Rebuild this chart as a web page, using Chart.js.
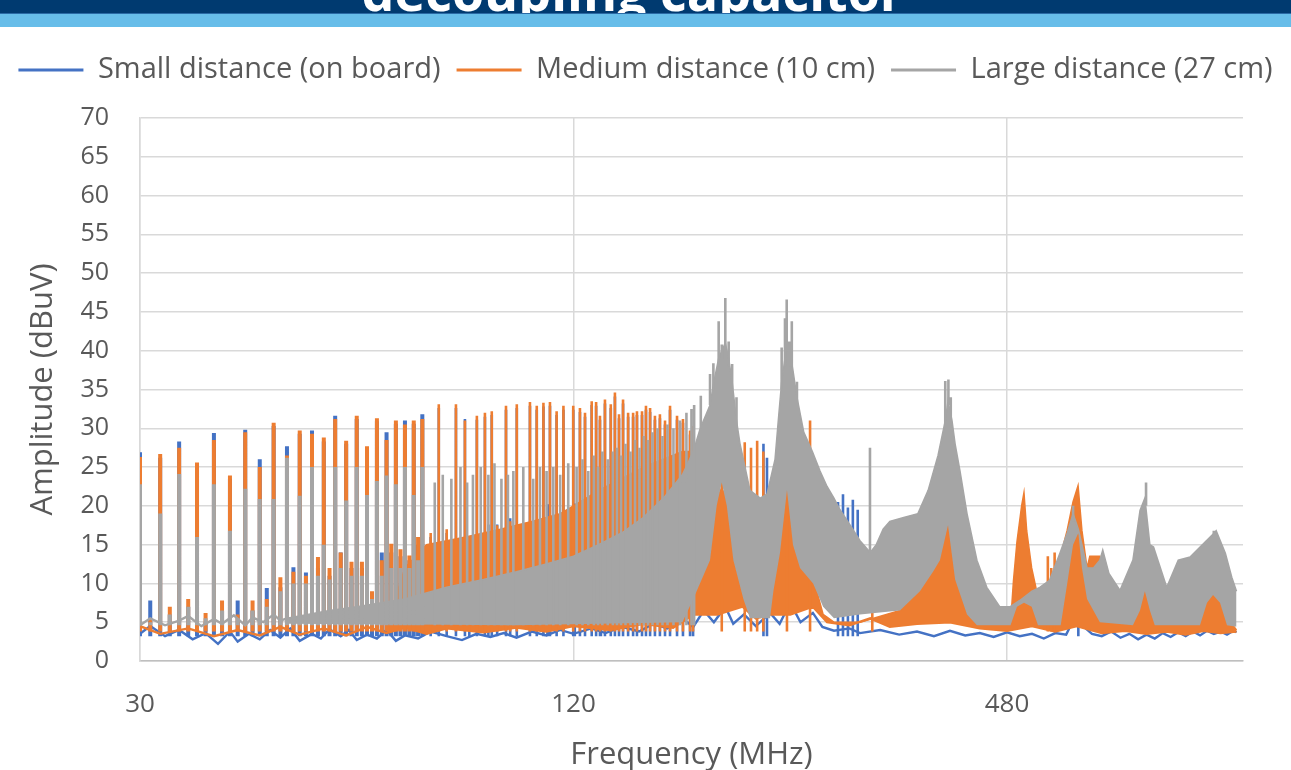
<!DOCTYPE html>
<html>
<head>
<meta charset="utf-8">
<script src="https://cdn.jsdelivr.net/npm/chart.js@4.4.1/dist/chart.umd.min.js"></script>
<style>
  html, body { margin: 0; padding: 0; background: #fff; }
  body { width: 1291px; height: 770px; position: relative; overflow: hidden; }
  #topbar { position: absolute; left: 0; top: 0; width: 1291px; height: 13px; background: #003a70; overflow: hidden; z-index: 2; }
  #topbar span { position: absolute; left: -13px; width: 1291px; top: -35px; text-align: center;
    font: bold 52px "Open Sans", sans-serif; line-height: 52px; color: #fff; white-space: nowrap; }
  #rule { position: absolute; left: 0; top: 13px; width: 1291px; height: 1px; background: #2a6aa5; z-index: 2; }
  #stripe { position: absolute; left: 0; top: 14px; width: 1291px; height: 13px; background: #67bde9; z-index: 2; }
  #chart { position: absolute; left: 0; top: 0; }
</style>
</head>
<body>
<div id="topbar"><span>decoupling capacitor</span></div>
<div id="rule"></div>
<div id="stripe"></div>
<canvas id="chart" width="1291" height="770"></canvas>
<script>
const seriesNames = ['Small distance (on board)', 'Medium distance (10 cm)', 'Large distance (27 cm)'];
const seriesColors = ['#4472c4', '#ed7d31', '#a5a5a5'];
const xTickMHz = [30, 120, 480];

// single spikes 30-74 MHz, one per MHz
const lowMHz = [30, 31, 32, 33, 34, 35, 36, 37, 38, 39, 40, 41, 42, 43, 44, 45, 46, 47, 48, 49, 50, 51, 52, 53, 54,
  55, 56, 57, 58, 59, 60, 61, 62, 63, 64, 65, 66, 67, 68, 69, 70, 71, 72, 73, 74];
const smallLowTop = [26.9, 7.8, 26.2, 6, 28.3, 7, 25.2, 5, 29.4, 6.5, 23.5, 7.8, 29.8, 6.5, 26, 9.4, 30.3, 9.5, 27.7, 12.1,
  29.3, 11.4, 29.7, 12, 28.3, 11, 31.6, 14, 28, 12, 31.2, 12, 27.3, 8, 30.9, 14, 29.5, 14, 30.6, 13.5, 31, 13, 30.6, 15, 31.8];
const mediumLowTop = [26.3, 5.5, 26.7, 7, 27.5, 8, 25.6, 6.2, 28.5, 7.8, 23.9, 6, 29.5, 7.8, 25, 8, 30.7, 10.8, 26.5, 11.5,
  29.7, 11, 29.3, 13.4, 28.8, 12, 31.2, 14, 28.4, 12.8, 31.6, 12.8, 27.7, 9, 31.3, 13, 28.5, 15.1, 31, 14.4, 30.5, 13.6, 31, 16, 31.2];
const largeLowTop = [22.8, 5, 19, 6, 24.1, 7, 16, 5.5, 22.8, 6.5, 16.8, 5.5, 22.2, 6.5, 20.9, 7, 20.9, 9, 26.2, 10,
  21.3, 10, 25, 11, 15, 10.5, 25, 12, 20.7, 11, 25, 11, 21.4, 8, 23.2, 11, 23.9, 12, 22.8, 12, 25, 12, 21.4, 13, 25];

// tall spikes 76-176 MHz (small and medium share positions, large sits in between)
const tallMHz = [76, 78, 80, 82.4, 84.8, 86, 88.1, 90.4, 92.4, 94, 96.7, 98, 100.1, 104.4, 106.7, 109, 111.3, 113.7, 116.2,
  119.9, 122.5, 124.5, 127.2, 129, 130.6, 132.7, 135.2, 137, 138.8, 140.6, 142.9, 145.2, 147, 149.4, 151.3, 153.3, 155.7,
  158.2, 160.8, 163.4, 167.1, 170.3, 174.2, 175.9];
const smallTallTop = [16, 32.6, 16.5, 32.6, 31.2, 14.5, 31.1, 31.5, 31.7, 17.6, 32.4, 18.4, 32.6, 32.9, 32.4, 32.8, 32.9, 31.7,
  32.4, 32.4, 32.1, 31.5, 33, 32.9, 31.1, 33.2, 32.6, 34.1, 31.3, 33.2, 31.5, 31.5, 31.7, 31.7, 32.4, 32.1, 31.1, 31.3, 30.5,
  32.4, 31.1, 30.7, 29.2, 29.8];
const mediumTallTop = [16.5, 33.1, 17, 33.1, 31, 15, 31.6, 32, 32.2, 17.5, 32.9, 18, 33.1, 33.4, 32.9, 33.3, 33.4, 32.2,
  32.9, 32.9, 32.6, 32, 33.5, 33.4, 31.6, 33.7, 33.1, 34.6, 31.8, 33.7, 32, 32, 32.2, 32.2, 32.9, 32.6, 31.6, 31.8, 31,
  32.9, 31.6, 31.2, 29.7, 30.3];
const largeTallMHz = [77, 79, 81.2, 83.6, 85.4, 87, 89.2, 91.4, 93.2, 95.3, 97.3, 99, 102.2, 105.5, 107.8, 110.1, 112.5, 115,
  118, 121.2, 123.5, 125.8, 128.1, 129.8, 131.6, 133.9, 136.1, 137.9, 139.7, 141.7, 144, 146.1, 148.2, 150.3, 152.3, 154.5,
  157, 159.5, 162.1, 165.2, 168.7, 172.2, 175, 176.5];
const largeTallTop = [23, 24, 23.5, 25, 23, 24, 25, 24, 25.5, 23.5, 24, 24.5, 25, 23.5, 25, 24.5, 25, 24, 25.5, 25, 26, 24.5,
  26.5, 25, 27, 26, 27, 27.5, 26.5, 28, 27, 28.5, 27.5, 29, 28.5, 29.5, 30, 29, 30.5, 30, 31, 32, 32.5, 33];

// spikes standing out of the dense part
const smallExtraMHz = [91.4, 110.4, 120.5, 131, 220.3, 222.8, 279.6, 284.1, 288.6, 293.2, 297.8, 603];
const smallExtraTop = [17.6, 20.2, 20.3, 22, 28, 26.2, 20.5, 21.5, 19.8, 20.8, 19.5, 6.2];
const mediumExtraMHz = [192.8, 207.5, 211.7, 215.9, 220.2, 237.5, 255.7, 312, 547, 553, 559];
const mediumExtraTop = [25.4, 28.2, 27.5, 28.4, 27, 26.2, 31, 12, 13.5, 12, 14];
const largeExtraMHz = [180.3, 185.7, 187.7, 190.9, 192.8, 195, 197.1, 199.3, 202.1, 233.5, 236, 237.3, 239.3, 241.2, 245.2,
  309.7, 394, 398, 401, 593, 748.8, 930];
const largeExtraTop = [34.2, 37, 38.4, 43.8, 40.8, 46.8, 41.2, 38.3, 34, 40.4, 44.2, 46.6, 41.2, 43.8, 36, 27.5, 36.1, 36.3,
  34, 20, 23, 16.8];
// level of the dense grey part each of those spikes rises out of
const largeExtraFrom = [30, 33, 35, 38, 39, 40, 38, 35, 30, 35, 38, 40, 38, 38, 33, 14, 30, 33, 31, 18, 20, 16];

// noise floor levels the spikes rise from
const smallBase = 3.2;
const mediumBase = 3.8;
const largeBase = 4.6;

// noise floor traces
const smallNoiseMHz = [30, 31, 32.5, 34, 35.5, 37, 38.5, 40, 41, 42.5, 44, 45.5, 47, 48.5, 50, 52, 53.5, 55, 57, 58.5, 60, 62,
  64, 66, 68, 70, 73, 76, 80, 84, 88, 92, 96, 100, 105, 110, 115, 120, 127, 133, 140, 148, 155, 162, 170, 176, 182, 188, 195,
  200, 207, 215, 225, 232, 240, 248, 258, 266, 276, 290, 300, 320, 340, 360, 380, 400, 420, 440, 460, 480, 500, 520, 540,
  560, 580, 595, 603, 612, 630, 650, 670, 690, 710, 730, 750, 770, 790, 810, 830, 850, 870, 890, 910, 930, 950, 970, 990, 1000];
const smallNoise = [3.5, 4.5, 3.2, 4, 2.8, 3.6, 2.2, 3.8, 2.5, 3.5, 2.8, 4, 3, 4.2, 2.6, 3.5, 2.9, 4.1, 3.2, 4, 2.7, 3.4,
  2.9, 4, 2.6, 3.3, 2.9, 3.8, 3.2, 2.7, 3.5, 3.1, 3.6, 3, 3.8, 3.3, 4, 3.5, 4.2, 3.6, 4.4, 3.8, 4.8, 4.2, 5.5, 4.4, 6.5, 5, 7,
  4.8, 6, 4.5, 6.2, 4.8, 7.5, 5, 6.2, 4.4, 3.9, 4.2, 3.6, 4, 3.4, 3.8, 3.2, 3.9, 3.3, 3.6, 3.1, 3.7, 3.2, 3.5, 2.9,
  3.6, 3.4, 5.5, 6.2, 4.5, 3.5, 3.2, 3.8, 3, 3.5, 2.8, 3.4, 2.9, 3.6, 3.1, 3.7, 3.2, 3.8, 3.3, 3.9, 3.5, 3.8, 3.4, 3.9, 3.7];
const mediumNoiseMHz = [30, 32, 35, 38, 41, 44, 47, 50, 54, 58, 62, 66, 70, 75, 80, 90, 100, 110, 120, 135, 150, 165, 176,
  190, 206, 215, 225, 240, 258, 270, 290, 310, 330, 360, 400, 440, 480, 520, 560, 600, 650, 700, 750, 800, 850, 900, 950, 1000];
const mediumNoise = [4.5, 3.5, 4.2, 3.2, 4, 3.3, 4.4, 3.4, 4.2, 3.3, 4.4, 3.6, 4.3, 3.5, 4.2, 3.7, 4.3, 3.8, 4.5, 4, 4.8,
  4.3, 6, 6, 7, 5.5, 6, 6, 7, 5, 4.6, 5.5, 4.4, 4.8, 5, 4.2, 3.9, 4.5, 3.8, 4.5, 3.6, 3.9, 3.5, 3.8, 3.4, 3.9, 3.6, 3.8];
const largeNoiseMHz = [30, 31, 32.5, 34, 35, 36.5, 38, 39, 40.5, 42, 43, 44.5, 46, 47, 48];
const largeNoise = [4.6, 5.5, 4.6, 5.2, 5.8, 4.5, 5.4, 4.8, 5.9, 4.6, 5.6, 5, 6, 5.2, 5.5];

// upper edge of the dense (unresolved) part of the medium trace
const mediumBandMHz = [66, 70, 75, 80, 85, 90, 95, 100, 105, 110, 115, 120, 125, 130, 140, 150, 160, 170, 176, 180, 185.7,
  189.7, 192.8, 195.9, 200.1, 206.6, 211, 220, 227.4, 232.3, 237.5, 242.1, 247.6, 258.2, 266.6, 276, 300, 340.9, 363.4,
  378.9, 387.4, 397.5, 406.6, 422.4, 435.9, 485.5, 490, 495.6, 503, 506.8, 511.2, 519.4, 527.8, 542, 563, 581.7, 592.8,
  602.5, 610, 620, 625.6, 646, 652, 673.8, 718, 734.5, 746, 758, 770, 862, 889.8, 910, 927.7, 948.6, 970, 1000];
const mediumBandTop = [4.5, 12, 15, 15.5, 16, 16.5, 17, 17.5, 18, 18.5, 19, 20, 21, 22, 23.5, 25, 26, 27, 27, 20, 13.1, 21,
  22.3, 21, 13, 8.2, 6.5, 6.5, 10.4, 15, 22, 16, 13, 10.8, 6, 5, 5, 6.5, 9.3, 12, 13.6, 18, 10.7, 6.5, 4.9, 4.8, 10.3, 15.4,
  20, 21.7, 16.8, 12, 9, 6, 11.7, 16.8, 20.5, 22.6, 16.8, 12, 13.5, 13.5, 9.3, 4.9, 4.9, 7, 9.1, 7, 5, 5, 6.5, 8.5, 8.5,
  7.5, 5.6, 4];

// upper and lower edge of the dense part of the large trace
const largeBandMHz = [48, 55, 60, 70, 80, 90, 100, 110, 120, 130, 140, 150, 160, 170, 176, 180, 185.7, 188, 190.9, 192.8,
  195, 197.1, 199.3, 202.1, 204.4, 207.7, 211, 218, 222.8, 228.6, 231, 233.5, 236, 237.3, 239.3, 241.2, 245.2, 250.6, 257.6,
  264, 270, 276, 281.4, 290.7, 300, 310, 316, 323, 330, 345, 361, 373, 385, 394, 397.5, 402.6, 406.6, 413, 422.4, 436, 450,
  469, 485, 500, 520, 533, 550, 569, 582, 593, 603, 610, 620, 633, 646, 652, 665, 689, 718, 734.5, 746, 758, 767, 800, 830,
  862, 890, 931, 937, 965, 985, 1000];
const largeBandTop = [5.5, 6.5, 7, 8, 9.5, 10.5, 11.5, 12.5, 13.5, 15, 16.5, 18.5, 21, 24, 27, 30, 33, 36, 39, 40, 41, 39,
  36, 31, 28, 25, 22, 21, 21.5, 26, 31, 36, 39, 41, 39.5, 38.5, 34, 29.5, 27, 24.5, 22.5, 21, 19.5, 17.5, 15.5, 14, 15, 17,
  18, 18.5, 19, 22, 26.5, 31, 33.5, 31, 28, 24.5, 19, 13, 9.5, 7, 7, 7.8, 9, 9.5, 10.4, 14, 16.5, 19, 17, 15, 12, 12, 13,
  14.3, 11.3, 9.1, 13, 19.4, 21, 15, 14.7, 9.5, 13, 13.4, 14.7, 16.5, 16.8, 13.9, 10.8, 9];
const largeBandLowMHz = [48, 100, 170, 176, 185.7, 189.7, 192.8, 195.9, 200.1, 206.6, 211, 225, 227.4, 232.3, 237.5, 242.1,
  247.6, 258.2, 266.6, 276, 300, 340.9, 363.4, 378.9, 387.4, 397.5, 406.6, 422.4, 436, 485.5, 495.6, 506.8, 519.4, 530,
  570, 582, 593, 603, 610, 620, 646, 718, 734.5, 746, 758, 770, 889.8, 910, 927.7, 948.6, 970, 1000];
const largeBandLow = [4.8, 4.6, 5, 8, 13, 20, 23, 20, 13, 8, 5.5, 5.5, 9, 14, 22, 15, 12, 10, 7, 5.5, 6, 6.5, 9, 11.5, 13,
  17.5, 10.5, 6, 4.6, 4.6, 7, 7.5, 7, 4.6, 4.6, 10, 15, 16.5, 12, 8, 5, 4.6, 6.5, 9, 6.5, 4.6, 4.6, 7.5, 8.5, 7.5, 4.6, 4.4];

function toPoints(mhz, vals) {
  return mhz.map((f, i) => ({ x: f, y: vals[i] }));
}

// each spike is a vertical stroke from its foot to its top
function toSpikes(mhz, tops, base) {
  const pts = [];
  mhz.forEach((f, i) => {
    const foot = Array.isArray(base) ? base[i] : base;
    pts.push({ x: f, y: foot }, { x: f, y: tops[i] }, { x: f, y: null });
  });
  return pts;
}

function lineSet(label, data, color, width, order, extra) {
  return Object.assign({
    label: label,
    data: data,
    borderColor: color,
    backgroundColor: color,
    borderWidth: width,
    pointRadius: 0,
    tension: 0,
    fill: false,
    spanGaps: false,
    order: order
  }, extra || {});
}

const blue = seriesColors[0], orange = seriesColors[1], grey = seriesColors[2];

const datasets = [
  // 0-2 small distance
  lineSet(seriesNames[0], toPoints(smallNoiseMHz, smallNoise), blue, 2.4, 13),
  lineSet('', toSpikes(lowMHz, smallLowTop, smallBase), blue, 4, 12),
  lineSet('', toSpikes(tallMHz.concat(smallExtraMHz), smallTallTop.concat(smallExtraTop), smallBase), blue, 2.6, 11),
  // 3-6 medium distance
  lineSet(seriesNames[1], toPoints(mediumNoiseMHz, mediumNoise), orange, 2.4, 10),
  lineSet('', toPoints(mediumBandMHz, mediumBandTop), orange, 1.5, 9, { fill: 3 }),
  lineSet('', toSpikes(lowMHz, mediumLowTop, mediumBase), orange, 4, 8),
  lineSet('', toSpikes(tallMHz.concat(mediumExtraMHz), mediumTallTop.concat(mediumExtraTop), mediumBase), orange, 2.6, 7),
  // 7-12 large distance
  lineSet(seriesNames[2], toPoints(largeNoiseMHz, largeNoise), grey, 2.4, 6),
  lineSet('', toPoints(largeBandLowMHz, largeBandLow), 'rgba(0,0,0,0)', 0, 6),
  lineSet('', toPoints(largeBandMHz, largeBandTop), grey, 1.5, 5, { fill: 8 }),
  lineSet('', toSpikes(lowMHz, largeLowTop, largeBase), grey, 4, 4),
  lineSet('', toSpikes(largeTallMHz, largeTallTop, largeBase), grey, 2.6, 3),
  lineSet('', toSpikes(largeExtraMHz, largeExtraTop, largeExtraFrom), grey, 2.6, 2)
];

const legendGap = {
  id: 'legendGap',
  beforeInit(chart) {
    const fit = chart.legend.fit;
    chart.legend.fit = function () {
      this.maxWidth = chart.width;
      fit.call(this);
      this.height += 23.5;
    };
  },
  afterLayout(chart) {
    chart.legend.left = 0;
    chart.legend.right = chart.width;
  }
};

Chart.defaults.font.family = '"Open Sans", sans-serif';
Chart.defaults.color = '#595959';

new Chart(document.getElementById('chart').getContext('2d'), {
  type: 'line',
  data: { datasets: datasets },
  options: {
    responsive: false,
    animation: false,
    devicePixelRatio: 1,
    layout: { padding: { top: 39.5, right: 48, bottom: 0, left: 0 } },
    plugins: {
      tooltip: { enabled: false },
      legend: {
        position: 'top',
        labels: {
          boxWidth: 65,
          boxHeight: 3,
          padding: 16,
          color: '#595959',
          font: { size: 29 },
          generateLabels: (chart) => chart.data.datasets
            .map((ds, i) => ({
              text: ds.label,
              fillStyle: ds.borderColor,
              strokeStyle: ds.borderColor,
              lineWidth: 0,
              hidden: false,
              datasetIndex: i,
              fontColor: '#595959'
            }))
            .filter(item => item.text !== '')
        }
      }
    },
    scales: {
      x: {
        type: 'logarithmic',
        min: 30,
        max: 1021,
        afterBuildTicks: (scale) => { scale.ticks = xTickMHz.map(v => ({ value: v })); },
        afterFit: (scale) => { scale.height = 109; },
        grid: { color: '#d9d9d9', lineWidth: 1.5, drawTicks: false },
        border: { color: '#bfbfbf', width: 1.5 },
        ticks: {
          autoSkip: false,
          maxRotation: 0,
          padding: 28,
          font: { size: 26 },
          color: '#595959',
          callback: (v) => String(v)
        },
        title: {
          display: true,
          text: 'Frequency (MHz)',
          color: '#595959',
          font: { size: 31 },
          padding: { top: 0, bottom: -4 }
        }
      },
      y: {
        min: 0,
        max: 70,
        afterFit: (scale) => { scale.width = 140; },
        grid: { color: '#d9d9d9', lineWidth: 1.5, drawTicks: false },
        border: { color: '#d9d9d9', width: 1.5 },
        ticks: { stepSize: 5, padding: 31, font: { size: 25 }, color: '#595959' },
        title: {
          display: true,
          text: 'Amplitude (dBuV)',
          color: '#595959',
          font: { size: 31 },
          padding: { top: 25, bottom: 0 }
        }
      }
    }
  },
  plugins: [legendGap]
});
</script>
</body>
</html>
